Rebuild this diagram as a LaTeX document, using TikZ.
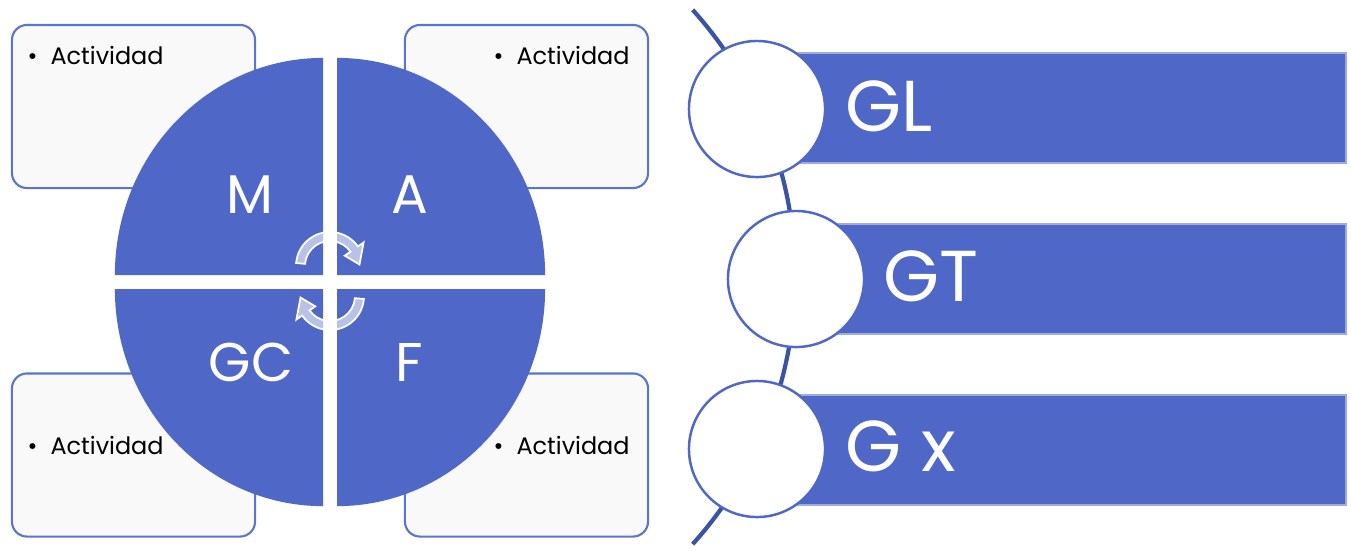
\documentclass[tikz,border=0pt]{standalone}
\usepackage{fontspec}
\setmainfont{Poppins}
\usetikzlibrary{positioning}
\definecolor{quadblue}{HTML}{4F67C6}
\definecolor{arcnavy}{HTML}{3B53A4}
\definecolor{boxfill}{HTML}{F9F9F9}
\definecolor{boxline}{HTML}{5B74D0}

\begin{document}
\begin{tikzpicture}[x=0.01cm,y=0.01cm,
  actbox/.style={draw=boxline,line width=0.6pt,fill=boxfill,rounded corners=0.15cm,
    minimum width=2.43cm,minimum height=1.63cm,inner sep=0pt},
  acttext/.style={anchor=west,inner sep=0pt,font=\fontsize{6.8}{8}\selectfont},
  quadlbl/.style={text=white,inner sep=0pt,font=\fontsize{15.5}{18}\selectfont},
  turn/.style={fill=white,fill opacity=0.6,draw=white,line width=0.5pt},
  ring/.style={circle,draw=quadblue,line width=0.7pt,fill=white,minimum size=1.36cm,inner sep=0pt},
  bar/.style={fill=quadblue,draw=quadblue!55!white,line width=0.4pt,
    minimum height=1.1cm,minimum width=5.89cm,inner sep=0pt},
  barlbl/.style={anchor=west,text=white,inner sep=0pt,font=\fontsize{20.5}{24}\selectfont}]
  \useasboundingbox (0,0) rectangle (1351,550);

  % activity boxes
  \node[actbox] (boxM) at (133.5,443.5) {};
  \node[actbox] (boxA) at (526.5,443.5) {};
  \node[actbox] (boxGC) at (133.5,95) {};
  \node[actbox] (boxF) at (526.5,95) {};
  \node[acttext] (txtM) at (27,495) {\textbullet\hspace{0.13cm}Actividad};
  \node[acttext] (txtA) at (493,495) {\textbullet\hspace{0.13cm}Actividad};
  \node[acttext] (txtGC) at (27,105) {\textbullet\hspace{0.13cm}Actividad};
  \node[acttext] (txtF) at (493,105) {\textbullet\hspace{0.13cm}Actividad};

  % quarters of the cycle
  \fill[quadblue] (323,275) -- ++(-2.08cm,0) arc[start angle=180,end angle=90,x radius=2.08cm,y radius=2.17cm] -- cycle;
  \fill[quadblue] (337,275) -- ++(2.08cm,0) arc[start angle=0,end angle=90,x radius=2.08cm,y radius=2.17cm] -- cycle;
  \fill[quadblue] (323,261) -- ++(-2.08cm,0) arc[start angle=180,end angle=270,x radius=2.08cm,y radius=2.17cm] -- cycle;
  \fill[quadblue] (337,261) -- ++(2.08cm,0) arc[start angle=0,end angle=-90,x radius=2.08cm,y radius=2.17cm] -- cycle;
  \node[quadlbl] (lblM) at (250,355) {M};
  \node[quadlbl] (lblA) at (410,355) {A};
  \node[quadlbl] (lblGC) at (251,188) {GC};
  \node[quadlbl] (lblF) at (409,188) {F};

  % turning arrows
  \begin{scope}[shift={(330,284)}]
    \path[turn] (175:0.34cm) arc[start angle=175,end angle=35,radius=0.34cm]
      -- (35:0.41cm) -- (3:0.295cm) -- (35:0.18cm) -- (35:0.25cm)
      arc[start angle=35,end angle=175,radius=0.25cm] -- cycle;
  \end{scope}
  \begin{scope}[shift={(330,254)}]
    \path[turn] (-5:0.34cm) arc[start angle=-5,end angle=-145,radius=0.34cm]
      -- (-145:0.41cm) -- (-177:0.295cm) -- (-145:0.18cm) -- (-145:0.25cm)
      arc[start angle=-145,end angle=-5,radius=0.25cm] -- cycle;
  \end{scope}

  % list on the right
  \coordinate (hub) at (396,273);
  \draw[arcnavy,line width=1.2pt] (hub) ++(42:3.99cm) arc[start angle=42,end angle=-42,radius=3.99cm];
  \node[bar] (barGL) at (1051.5,442) {};
  \node[bar] (barGT) at (1051.5,271) {};
  \node[bar] (barGx) at (1051.5,100) {};
  \node[ring] (ringGL) at (757,441) {};
  \node[ring] (ringGT) at (796,271) {};
  \node[ring] (ringGx) at (757,101) {};
  \node[barlbl] (lblGL) at (845,444) {GL};
  \node[barlbl] (lblGT) at (883,274) {GT};
  \node[barlbl] (lblGx) at (845,104) {G x};
\end{tikzpicture}
\end{document}
